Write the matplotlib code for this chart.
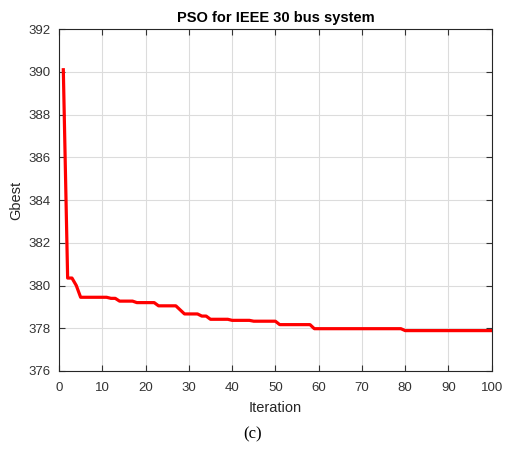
import matplotlib
matplotlib.use('Agg')
import matplotlib.pyplot as plt

# best cost found after each PSO iteration
iterations = list(range(1, 101))
gbest = ([390.1] + [380.35] * 2 + [380.0] + [379.45] * 7 + [379.4] * 2
         + [379.27] * 4 + [379.2] * 5 + [379.05] * 5 + [378.86]
         + [378.67] * 4 + [378.57] * 2 + [378.42] * 5 + [378.37] * 5
         + [378.33] * 6 + [378.17] * 8 + [377.98] * 21 + [377.89] * 21)

xticks = list(range(0, 101, 10))
yticks = list(range(376, 393, 2))

plt.rcParams['font.family'] = ['Liberation Sans', 'DejaVu Sans']

fig = plt.figure(figsize=(5.05, 4.51), dpi=100)
ax = fig.add_axes([0.1168, 0.1774, 0.857, 0.758])

ax.plot(iterations, gbest, color='#ff0000', linewidth=2.3)

ax.set_xlim(0, 100)
ax.set_ylim(376, 392)
ax.set_xticks(xticks)
ax.set_yticks(yticks)
ax.grid(True, color='#dcdcdc', linewidth=0.8)
ax.set_axisbelow(True)
ax.tick_params(direction='in', top=True, right=True, length=4,
               labelsize=9.5, colors='#333333')
ax.tick_params(axis='x', pad=8)
ax.tick_params(axis='y', pad=6)
for s in ax.spines.values():
    s.set_color('#262626')
    s.set_linewidth(0.8)

ax.set_title('PSO for IEEE 30 bus system', fontsize=10.5, fontweight='bold', pad=5)
ax.set_xlabel('Iteration', fontsize=10.5, color='#262626', labelpad=5)
ax.set_ylabel('Gbest', fontsize=10.5, color='#262626', labelpad=4)

fig.text(0.5, 0.036, '(c)', ha='center', va='center', fontsize=12,
         family='Liberation Serif')

fig.savefig('out.png', dpi=100)
